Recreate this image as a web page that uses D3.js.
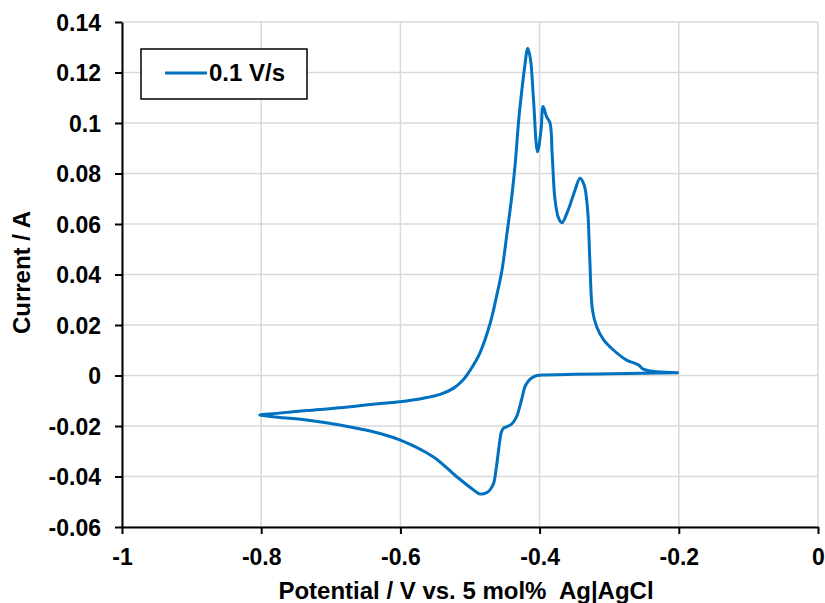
<!DOCTYPE html>
<html>
<head>
<meta charset="utf-8">
<script src="https://cdn.jsdelivr.net/npm/d3@7"></script>
<style>
  body { margin: 0; background: #fff; }
  text { font-family: 'Liberation Sans', Arial, sans-serif; font-weight: bold; fill: #000; white-space: pre; }
</style>
</head>
<body>
<div id="chart"></div>
<script>
// Data: one closed CV loop, starting at -0.2 V (cathodic sweep first)
const potential = [
  -0.2, -0.25, -0.30, -0.35, -0.39, -0.404, -0.412, -0.417, -0.421, -0.426, -0.433, -0.440,
  -0.447, -0.452, -0.455, -0.457, -0.462, -0.466, -0.471, -0.476, -0.486, -0.495, -0.519,
  -0.553, -0.601, -0.639, -0.687, -0.735, -0.783, -0.802,
  -0.778, -0.735, -0.687, -0.639, -0.601, -0.567, -0.543, -0.524, -0.510, -0.500, -0.486,
  -0.471, -0.462, -0.454, -0.447, -0.440, -0.435, -0.430, -0.426, -0.422, -0.417, -0.413,
  -0.409, -0.403, -0.398, -0.395, -0.390, -0.385, -0.382, -0.378, -0.373, -0.368, -0.359,
  -0.349, -0.342, -0.336, -0.331, -0.328, -0.324, -0.318, -0.308, -0.294, -0.275, -0.258,
  -0.251, -0.232, -0.2,
];
const current = [
  0.0011, 0.0009, 0.0007, 0.0005, 0.0002, 0.0000, -0.0011, -0.0025, -0.0044, -0.0097, -0.0163, -0.0192,
  -0.0203, -0.0209, -0.0225, -0.0255, -0.0361, -0.0427, -0.0452, -0.0464, -0.0469, -0.0453, -0.0401,
  -0.0322, -0.0255, -0.0223, -0.0196, -0.0176, -0.0163, -0.0156,
  -0.0150, -0.0139, -0.0128, -0.0114, -0.0104, -0.0090, -0.0075, -0.0051, -0.0018, 0.0020, 0.0088,
  0.0207, 0.0312, 0.0418, 0.0560, 0.0708, 0.0840, 0.1012, 0.1118, 0.1210, 0.1296, 0.1250,
  0.1104, 0.0886, 0.0972, 0.1065, 0.1025, 0.1000, 0.0880, 0.0700, 0.0625, 0.0605, 0.0655,
  0.0735, 0.0781, 0.0754, 0.0655, 0.0470, 0.0259, 0.0193, 0.0141, 0.0101, 0.0061, 0.0042,
  0.0025, 0.0015, 0.0011,
];
const xTicks = [-1, -0.8, -0.6, -0.4, -0.2, 0];
const yTicks = [-0.06, -0.04, -0.02, 0, 0.02, 0.04, 0.06, 0.08, 0.1, 0.12, 0.14];
const seriesName = '0.1 V/s';

const width = 825;
const height = 603;
const margin = { t: 22, r: 7, b: 76, l: 122 };
const w = width - margin.l - margin.r;
const h = height - margin.t - margin.b;

const data = potential.map((p, i) => ({ x: p, y: current[i] }));

const xScale = d3.scaleLinear().domain([-1, 0]).range([0, w]);
const yScale = d3.scaleLinear().domain([-0.06, 0.14]).range([h, 0]);

// plain hyphen for negatives, like the original
const fmt = (d) => String(+d.toFixed(2));

const svg = d3
  .select('#chart')
  .append('svg')
  .attr('width', width)
  .attr('height', height)
  .append('g')
  .attr('transform', `translate(${margin.l}, ${margin.t})`);

// gridlines
svg.append('g')
  .selectAll('line')
  .data(xTicks)
  .join('line')
  .attr('x1', (d) => xScale(d))
  .attr('x2', (d) => xScale(d))
  .attr('y1', 0)
  .attr('y2', h)
  .attr('stroke', '#d9d9d9')
  .attr('stroke-width', 1.5);

svg.append('g')
  .selectAll('line')
  .data(yTicks)
  .join('line')
  .attr('x1', 0)
  .attr('x2', w)
  .attr('y1', (d) => yScale(d))
  .attr('y2', (d) => yScale(d))
  .attr('stroke', '#d9d9d9')
  .attr('stroke-width', 1.5);

// axes
const xAxis = d3.axisBottom(xScale).tickValues(xTicks).tickSize(7).tickSizeOuter(0).tickFormat(fmt);
const yAxis = d3.axisLeft(yScale).tickValues(yTicks).tickSize(7).tickSizeOuter(0).tickFormat(fmt);

const gx = svg.append('g').attr('transform', `translate(0, ${h})`).call(xAxis);
const gy = svg.append('g').call(yAxis);

[gx, gy].forEach((g) => {
  g.select('.domain').attr('stroke', '#000').attr('stroke-width', 2);
  g.selectAll('.tick line').attr('stroke', '#000').attr('stroke-width', 2);
  g.selectAll('.tick text')
    .style('font-family', "'Liberation Sans', Arial, sans-serif")
    .style('font-weight', 'bold')
    .style('font-size', '23px')
    .attr('fill', '#000');
});
gx.selectAll('.tick text').attr('dy', null).attr('y', 38);
gy.selectAll('.tick text').attr('x', -21).attr('dy', '0.36em');

// the curve
const line = d3.line()
  .x((d) => xScale(d.x))
  .y((d) => yScale(d.y))
  .curve(d3.curveCatmullRom.alpha(0.5));

svg.append('path')
  .datum(data)
  .attr('d', line)
  .attr('fill', 'none')
  .attr('stroke', '#0070c0')
  .attr('stroke-width', 3)
  .attr('stroke-linejoin', 'round');

// axis names
svg.append('text')
  .attr('text-anchor', 'middle')
  .attr('x', w / 2 - 4)
  .attr('y', h + 72)
  .style('font-size', '24px')
  .text('Potential / V vs. 5 mol%  Ag|AgCl');

svg.append('text')
  .attr('text-anchor', 'middle')
  .attr('transform', `translate(${-92}, ${h / 2 - 2}) rotate(-90)`)
  .style('font-size', '24px')
  .text('Current / A');

// legend
const legend = svg.append('g').attr('transform', 'translate(19, 27)');
legend.append('rect')
  .attr('width', 166)
  .attr('height', 50)
  .attr('fill', '#fff')
  .attr('stroke', '#000')
  .attr('stroke-width', 1.5);
legend.append('line')
  .attr('x1', 24)
  .attr('x2', 66)
  .attr('y1', 24)
  .attr('y2', 24)
  .attr('stroke', '#0070c0')
  .attr('stroke-width', 3);
legend.append('text')
  .attr('x', 68)
  .attr('y', 32)
  .style('font-size', '24px')
  .text(seriesName);
</script>
</body>
</html>
